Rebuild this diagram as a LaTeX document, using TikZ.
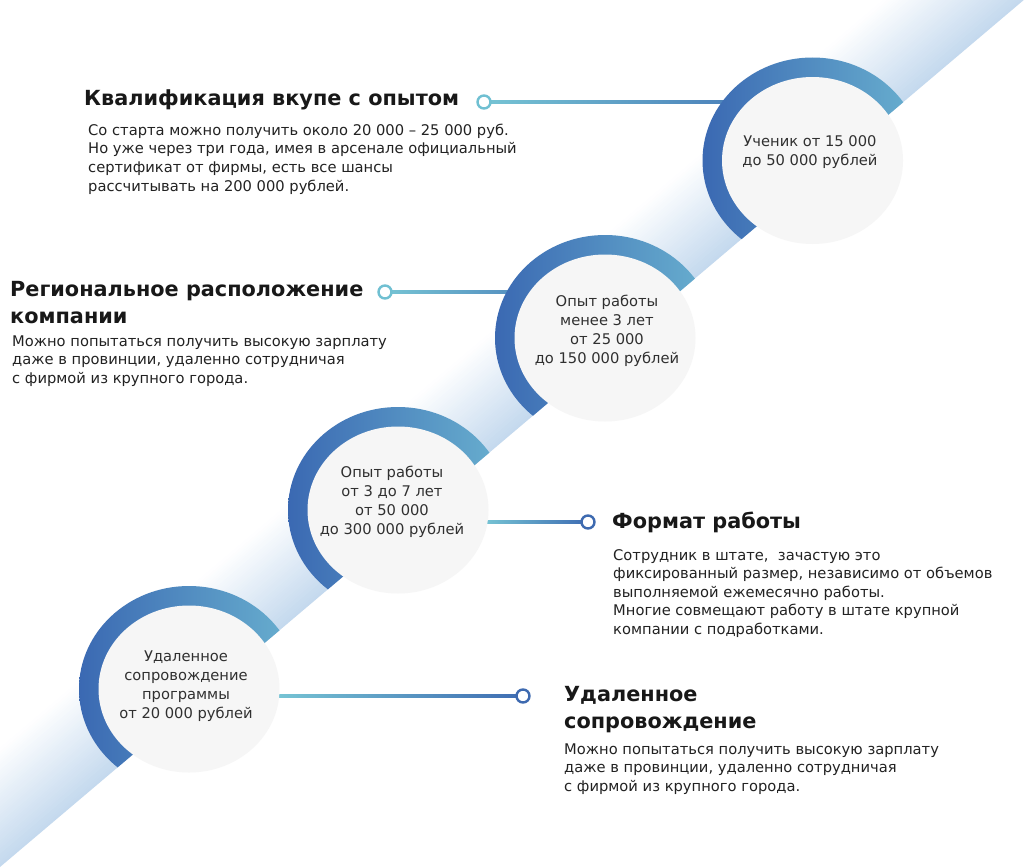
\documentclass[tikz,border=0pt]{standalone}
\usepackage{fontspec}
\setmainfont{DejaVu Sans}
\usetikzlibrary{calc,shapes.geometric}
\definecolor{bandblue}{RGB}{196,217,238}
\definecolor{ringdark}{RGB}{58,104,178}
\definecolor{ringlight}{RGB}{106,178,208}
\definecolor{diskgray}{RGB}{246,246,246}
\definecolor{lineteal}{RGB}{118,196,212}
\definecolor{lineblue}{RGB}{62,108,178}
\definecolor{dotteal}{RGB}{112,192,210}
\definecolor{dotblue}{RGB}{62,106,176}
\definecolor{headcol}{RGB}{24,24,24}
\definecolor{bodycol}{RGB}{34,34,34}
\definecolor{circtext}{RGB}{48,48,48}
\tikzset{
  disk/.style={ellipse, fill=diskgray, draw=none, minimum width=181pt, minimum height=167pt, inner sep=0pt},
  ringshade/.style={left color=ringdark, right color=ringlight},
  connshade/.style={left color=lineteal, right color=lineblue},
  dot/.style={circle, fill=white, line width=2.4pt, minimum size=13pt, inner sep=0pt},
  head/.style={font=\fontsize{20.8}{27}\selectfont\bfseries, text=headcol, anchor=base west, inner sep=0pt},
  body/.style={font=\fontsize{14.7}{18.7}\selectfont, text=bodycol, anchor=base west, inner sep=0pt},
  ctext/.style={font=\fontsize{14.7}{19}\selectfont, text=circtext, align=center, inner sep=0pt},
}
\begin{document}
\begin{tikzpicture}[x=1pt,y=-1pt]
\useasboundingbox (0,0) rectangle (1024,867);
\fill[white] (0,0) rectangle (1024,867);
% diagonal band
\begin{scope}
\clip (0,0) rectangle (1024,867);
\begin{scope}[shift={(0,867)}, rotate=40.26]
\foreach \i in {0,...,44} {
  \pgfmathtruncatemacro{\p}{100-100*\i/45}
  \fill[bandblue!\p!white] (-60,-2*\i) rectangle (1420,-2*\i-2.6);
}
\end{scope}
\end{scope}
% centres
\coordinate (c1) at (812.5,160.5);
\coordinate (c2) at (605,338);
\coordinate (c3) at (398,510);
\coordinate (c4) at (189,689);
\coordinate (p1) at (484,102);
\coordinate (p2) at (385,292);
\coordinate (p3) at (588,522);
\coordinate (p4) at (523,696);
% connectors
\shade[connshade] ($(p1)+(0,-1.1)$) rectangle ($(c1 |- p1)+(0,1.1)$);
\shade[connshade] ($(p2)+(0,-1.1)$) rectangle ($(c2 |- p2)+(0,1.1)$);
\shade[connshade] ($(c3 |- p3)+(86,-1.1)$) rectangle ($(p3)+(0,1.1)$);
\shade[connshade] ($(c4 |- p4)+(88,-1.1)$) rectangle ($(p4)+(0,1.1)$);
% rings, only above the diagonal
\begin{scope}
\clip (0,867) -- (1024,0) -- (0,0) -- cycle;
\foreach \n in {1,2,3,4} {
  \begin{scope}
  \clip (c\n) ellipse [x radius=110, y radius=103];
  \shade[ringshade] ($(c\n)+(-112,-105)$) rectangle ($(c\n)+(112,105)$);
  \end{scope}
}
\end{scope}
% disks
\node[disk] (g1) at (c1) {};
\node[disk] (g2) at (c2) {};
\node[disk] (g3) at (c3) {};
\node[disk] (g4) at (c4) {};
% dots
\node[dot, draw=dotteal] (d1) at (p1) {};
\node[dot, draw=dotteal] (d2) at (p2) {};
\node[dot, draw=dotblue] (d3) at (p3) {};
\node[dot, draw=dotblue] (d4) at (p4) {};
% circle texts
\node[ctext] (t1) at (810,152) {Ученик от 15 000\\до 50 000 рублей};
\node[ctext] (t2) at (607,331) {Опыт работы\\менее 3 лет\\от 25 000\\до 150 000 рублей};
\node[ctext] (t3) at (392,502) {Опыт работы\\от 3 до 7 лет\\от 50 000\\до 300 000 рублей};
\node[ctext] (t4) at (186,686.5) {Удаленное\\сопровождение\\программы\\от 20 000 рублей};
% block 1
\node[head] (h1) at (84,105) {Квалификация вкупе с опытом};
\node[body] (b1a) at (88,135) {Со старта можно получить около 20 000 – 25 000 руб.};
\node[body] (b1b) at (88,153.7) {Но уже через три года, имея в арсенале официальный};
\node[body] (b1c) at (88,172.4) {сертификат от фирмы, есть все шансы};
\node[body] (b1d) at (88,191.1) {рассчитывать на 200 000 рублей.};
% block 2
\node[head] (h2a) at (10,296) {Региональное расположение};
\node[head] (h2b) at (10,323) {компании};
\node[body] (b2a) at (12,346) {Можно попытаться получить высокую зарплату};
\node[body] (b2b) at (12,364.7) {даже в провинции, удаленно сотрудничая};
\node[body] (b2c) at (12,383.4) {с фирмой из крупного города.};
% block 3
\node[head] (h3) at (612,528) {Формат работы};
\node[body] (b3a) at (613,560) {Сотрудник в штате,\ \ зачастую это};
\node[body] (b3b) at (613,578.6) {фиксированный размер, независимо от объемов};
\node[body] (b3c) at (613,597.2) {выполняемой ежемесячно работы.};
\node[body] (b3d) at (613,615.8) {Многие совмещают работу в штате крупной};
\node[body] (b3e) at (613,634.4) {компании с подработками.};
% block 4
\node[head] (h4a) at (564,701) {Удаленное};
\node[head] (h4b) at (564,728) {сопровождение};
\node[body] (b4a) at (564,754) {Можно попытаться получить высокую зарплату};
\node[body] (b4b) at (564,772.7) {даже в провинции, удаленно сотрудничая};
\node[body] (b4c) at (564,791.4) {с фирмой из крупного города.};
\end{tikzpicture}
\end{document}
